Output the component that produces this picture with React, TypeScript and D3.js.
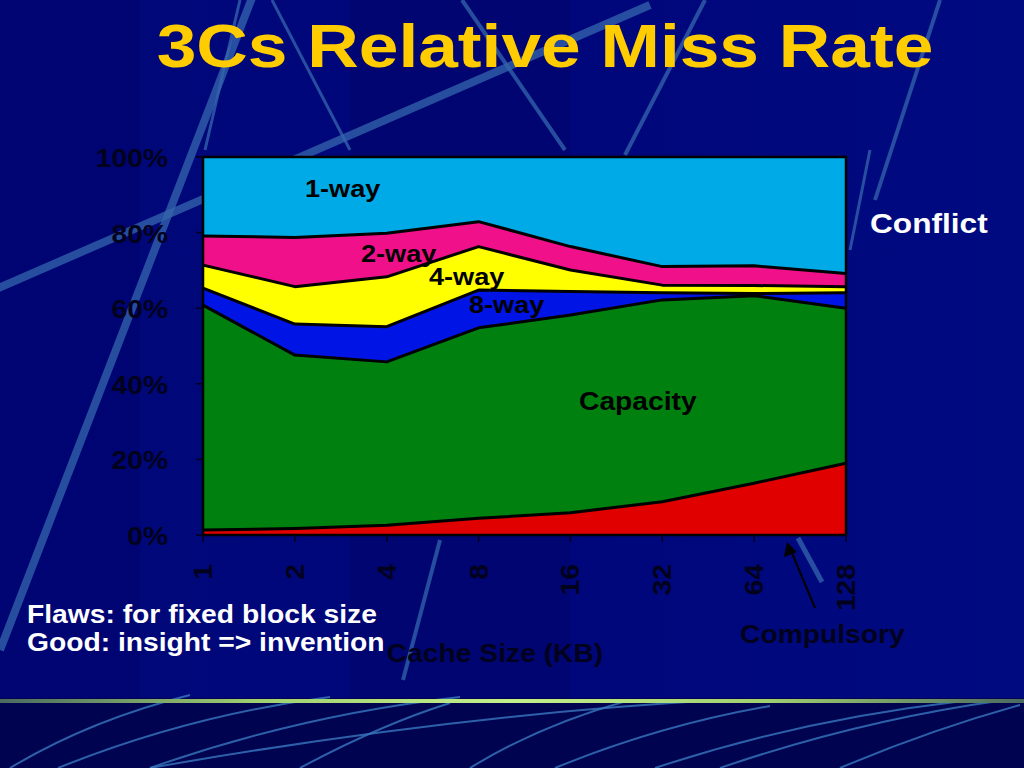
import * as d3 from 'd3'

// cache size categories (KB)
const cacheSizes = ['1', '2', '4', '8', '16', '32', '64', '128']

// relative share of misses (%) per component, bottom to top
const compulsory = [1.3, 1.7, 2.6, 4.4, 5.9, 8.8, 13.7, 19.0]
const capacity = [59.5, 45.9, 43.2, 50.4, 52.3, 53.4, 49.6, 41.0]
const conflict8 = [4.5, 8.2, 9.3, 10.0, 6.2, 1.9, 0.6, 4.1]
const conflict4 = [6.1, 9.9, 13.2, 11.5, 5.7, 2.0, 2.1, 1.6]
const conflict2 = [7.7, 13.0, 11.5, 6.6, 6.2, 4.9, 5.2, 3.5]
const conflict1 = [20.9, 21.3, 20.2, 17.1, 23.7, 29.0, 28.8, 30.8]

const yTicks = [0, 20, 40, 60, 80, 100]

const keys = ['compulsory', 'capacity', 'w8', 'w4', 'w2', 'w1']
const colors: Record<string, string> = {
  compulsory: '#e00000',
  capacity: '#00800e',
  w8: '#0014e6',
  w4: '#ffff00',
  w2: '#f0108a',
  w1: '#00aae6'
}

const W = 1024
const H = 768
const plot = { left: 203, right: 846, top: 157, bottom: 535 }
const dark = '#02021c'
const font = "'Liberation Sans', Arial, sans-serif"

// stretched bold text, as in the slide
const T = ({ x, y, size, fill, anchor = 'start', sx = 1.13, children }: any) => (
  <text
    transform={`translate(${x},${y}) scale(${sx},1)`}
    fontSize={size}
    fontWeight="bold"
    fontFamily={font}
    fill={fill}
    textAnchor={anchor}
  >
    {children}
  </text>
)

export default function App() {
  const rows = cacheSizes.map((s, i) => ({
    size: s,
    compulsory: compulsory[i],
    capacity: capacity[i],
    w8: conflict8[i],
    w4: conflict4[i],
    w2: conflict2[i],
    w1: conflict1[i]
  }))

  const stacked = d3.stack<any>().keys(keys)(rows)

  const x = d3.scalePoint<string>()
    .domain(cacheSizes)
    .range([plot.left, plot.right])

  const y = d3.scaleLinear()
    .domain([0, 100])
    .range([plot.bottom, plot.top])

  const area = d3.area<any>()
    .x(d => x(d.data.size)!)
    .y0(d => y(d[0]))
    .y1(d => y(d[1]))

  const edge = d3.line<any>()
    .x(d => x(d.data.size)!)
    .y(d => y(d[1]))

  // decorative background strokes
  const bgLines = [
    { x1: -20, y1: 296, x2: 650, y2: 5, w: 8 },
    { x1: 255, y1: -10, x2: 0, y2: 650, w: 8 },
    { x1: 240, y1: 0, x2: 205, y2: 150, w: 3 },
    { x1: 272, y1: 0, x2: 350, y2: 150, w: 3 },
    { x1: 462, y1: 0, x2: 565, y2: 150, w: 4 },
    { x1: 705, y1: 0, x2: 625, y2: 155, w: 4 },
    { x1: 940, y1: 0, x2: 875, y2: 200, w: 4 },
    { x1: 870, y1: 150, x2: 850, y2: 250, w: 3 },
    { x1: 440, y1: 540, x2: 403, y2: 680, w: 4 },
    { x1: 798, y1: 538, x2: 822, y2: 582, w: 5 }
  ]

  const footLines = [
    'M 10 768 Q 90 720 190 695',
    'M 58 768 Q 190 715 330 697',
    'M 150 768 Q 300 715 460 697',
    'M 150 768 Q 450 715 720 700',
    'M 300 768 Q 380 725 450 703',
    'M 470 768 Q 540 725 630 700',
    'M 555 768 Q 660 725 770 706',
    'M 655 768 Q 800 720 955 702',
    'M 720 768 Q 860 720 1005 700',
    'M 840 768 Q 930 730 1020 705'
  ]

  return (
    <svg
      width={W}
      height={H}
      viewBox={`0 0 ${W} ${H}`}
      style={{ position: 'fixed', left: 0, top: 0, display: 'block' }}
    >
      <defs>
        <linearGradient id="bg" x1="0" y1="0" x2="1" y2="0">
          <stop offset="0" stopColor="#000879" />
          <stop offset="0.5" stopColor="#00067a" />
          <stop offset="1" stopColor="#000a80" />
        </linearGradient>
        <linearGradient id="rule" x1="0" y1="0" x2="1" y2="0">
          <stop offset="0" stopColor="#4a6a60" />
          <stop offset="0.25" stopColor="#9fd070" />
          <stop offset="0.5" stopColor="#c4f08a" />
          <stop offset="0.75" stopColor="#9fd070" />
          <stop offset="1" stopColor="#4a6a60" />
        </linearGradient>
      </defs>

      {/* background */}
      <rect x={0} y={0} width={W} height={H} fill="url(#bg)" />
      <rect x={0} y={0} width={140} height={698} fill="#000470" opacity={0.6} />
      <rect x={350} y={0} width={220} height={698} fill="#000468" opacity={0.5} />
      <rect x={0} y={698} width={W} height={70} fill="#000450" />
      {bgLines.map((l, i) => (
        <line key={i} x1={l.x1} y1={l.y1} x2={l.x2} y2={l.y2}
          stroke="#3566ad" strokeWidth={l.w} opacity={0.75} />
      ))}
      {footLines.map((d, i) => (
        <path key={i} d={d} fill="none" stroke="#3a78c0" strokeWidth={2} opacity={0.8} />
      ))}
      <rect x={0} y={699} width={W} height={4} fill="url(#rule)" />

      {/* title */}
      <T x={545} y={67} size={62} fill="#ffcc00" anchor="middle" sx={1.15}>
        3Cs Relative Miss Rate
      </T>

      {/* stacked areas */}
      {stacked.map(layer => (
        <path key={layer.key} d={area(layer) || ''} fill={colors[layer.key]} />
      ))}
      {stacked.slice(0, -1).map(layer => (
        <path key={'e' + layer.key} d={edge(layer) || ''} fill="none"
          stroke="#000" strokeWidth={3} strokeLinejoin="round" />
      ))}
      <rect x={plot.left} y={plot.top} width={plot.right - plot.left}
        height={plot.bottom - plot.top} fill="none" stroke="#000" strokeWidth={2.5} />

      {/* y axis */}
      {yTicks.map(t => (
        <g key={t}>
          <line x1={plot.left - 7} x2={plot.left} y1={y(t)} y2={y(t)} stroke={dark} strokeWidth={1.5} />
          <T x={168} y={y(t) + 10} size={25} fill={dark} anchor="end">{t}%</T>
        </g>
      ))}

      {/* x axis */}
      {cacheSizes.map(s => (
        <g key={s}>
          <line x1={x(s)} x2={x(s)} y1={plot.bottom} y2={plot.bottom + 7} stroke={dark} strokeWidth={1.5} />
          <text
            transform={`translate(${x(s)! + 9},${564}) rotate(-90) scale(1.13,1)`}
            fontSize={25}
            fontWeight="bold"
            fontFamily={font}
            fill={dark}
            textAnchor="end"
          >
            {s}
          </text>
        </g>
      ))}
      <T x={495} y={662} size={25} fill={dark} anchor="middle">Cache Size (KB)</T>

      {/* area labels */}
      <T x={305} y={197} size={24} fill="#000">1-way</T>
      <T x={361} y={262} size={24} fill="#000">2-way</T>
      <T x={429} y={285} size={24} fill="#000">4-way</T>
      <T x={469} y={313} size={24} fill="#000">8-way</T>
      <T x={579} y={410} size={25} fill="#000">Capacity</T>
      <T x={870} y={233} size={28} fill="#fff">Conflict</T>

      {/* compulsory pointer */}
      <line x1={815} y1={608} x2={792} y2={553} stroke="#000" strokeWidth={2} />
      <path d="M 787 542 L 784 557 L 797 552 Z" fill="#000" />
      <T x={740} y={643} size={25} fill={dark}>Compulsory</T>

      {/* notes */}
      <T x={27} y={623} size={25} fill="#fff">Flaws: for fixed block size</T>
      <T x={27} y={651} size={25} fill="#fff">Good: insight =&gt; invention</T>
    </svg>
  )
}
